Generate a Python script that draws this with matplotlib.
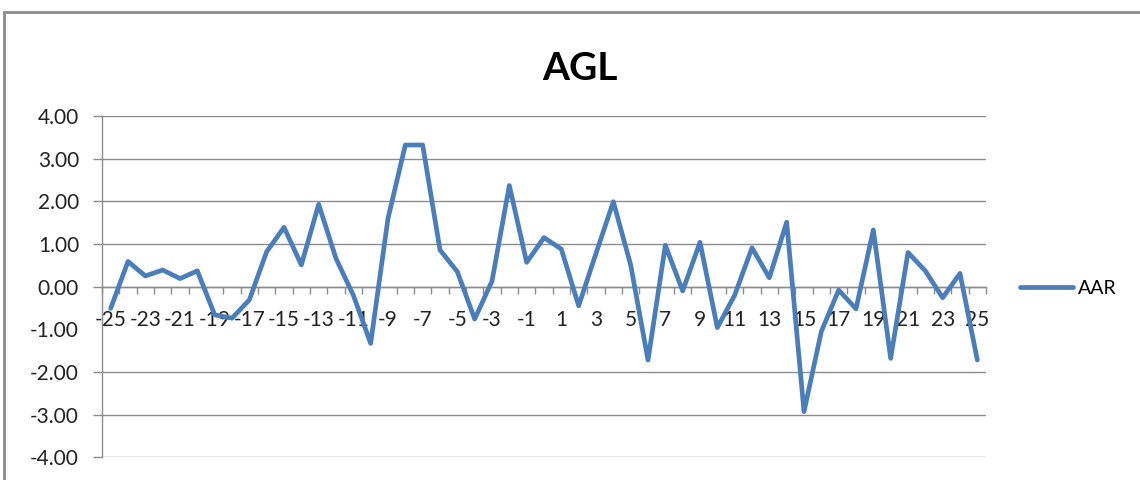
# -*- coding:utf-8 -*-
"""
AGL - average abnormal return around event day
"""
import numpy as np
import matplotlib
matplotlib.use('Agg')
import matplotlib.pyplot as plt
from matplotlib.patches import Rectangle
from matplotlib.ticker import FixedLocator

# event window days -25 .. 25
days = list(range(-25, 26))
aar = [
    -0.51, 0.59, 0.25, 0.39, 0.19, 0.37, -0.66, -0.74, -0.31, 0.82,
    1.39, 0.51, 1.93, 0.66, -0.20, -1.33, 1.60, 3.32, 3.32, 0.86,
    0.35, -0.76, 0.13, 2.37, 0.57, 1.15, 0.88, -0.45, 0.78, 1.99,
    0.51, -1.72, 0.97, -0.10, 1.04, -0.96, -0.20, 0.91, 0.21, 1.51,
    -2.93, -1.05, -0.08, -0.52, 1.33, -1.68, 0.80, 0.37, -0.26, 0.31,
    -1.72,
]
x_labels = list(range(-25, 26, 2))
y_ticks = [-4, -3, -2, -1, 0, 1, 2, 3, 4]
title = 'AGL'
series_name = 'AAR'

LINE_COLOR = '#4a7ebb'
GRID_COLOR = '#8c8c8c'
FONT = ['Lato', 'DejaVu Sans']

plt.rcParams['font.family'] = FONT

fig = plt.figure(figsize=(11.4, 4.8), dpi=100)
W, H = 1140.0, 480.0
ax = fig.add_axes([102 / W, 1 - 457.3 / H, (986 - 102) / W, (457.3 - 116) / H])

ax.plot(days, aar, color=LINE_COLOR, lw=3.4, solid_joinstyle='round',
        solid_capstyle='round', label=series_name, zorder=3, clip_on=False)

ax.set_xlim(days[0] - 0.5, days[-1] + 0.5)
ax.set_ylim(y_ticks[0], y_ticks[-1])

# y axis
ax.set_yticks(y_ticks)
ax.set_yticklabels(['%.2f' % v for v in y_ticks])
ax.tick_params(axis='y', length=6.5, width=1.0, color=GRID_COLOR, pad=10,
               labelsize=15, labelcolor='#222222')
ax.yaxis.grid(True, color=GRID_COLOR, lw=1.0)
ax.set_axisbelow(True)
# the -1 gridline sits under the category labels in the original
idx = y_ticks.index(-1)
ax.get_ygridlines()[idx].set_visible(False)
ax.yaxis.get_major_ticks()[idx].tick1line.set_visible(False)

# x axis crossing at zero, labels every other day, tick marks between days
ax.spines['bottom'].set_position(('data', 0))
ax.xaxis.set_major_locator(FixedLocator(x_labels))
ax.set_xticklabels([str(v) for v in x_labels])
ax.xaxis.set_minor_locator(FixedLocator(np.arange(days[0] - 0.5, days[-1] + 1, 1)))
ax.tick_params(axis='x', which='major', length=0, pad=17, labelsize=15,
               labelcolor='#222222')
ax.tick_params(axis='x', which='minor', length=5, width=1.0, color=GRID_COLOR,
               direction='out')

for side in ['top', 'right']:
    ax.spines[side].set_visible(False)
for side in ['left', 'bottom']:
    ax.spines[side].set_color(GRID_COLOR)
    ax.spines[side].set_linewidth(1.0)

# title and legend
fig.text(580 / W, 1 - 69 / H, title, ha='center', va='center',
         fontsize=28, fontweight='bold', color='black')
leg = ax.legend(loc='center left', bbox_to_anchor=(1020 / W, 1 - 288 / H),
                bbox_transform=fig.transFigure, frameon=False, fontsize=14,
                handlelength=2.7, handletextpad=0.3, borderpad=0,
                borderaxespad=0)

# chart area border (cut off at right and bottom in the original)
fig.add_artist(Rectangle((4 / W, -0.1), 1.2, 1.1 - 12 / H,
                         transform=fig.transFigure, fill=False,
                         edgecolor='#8c8c8c', lw=2.0, clip_on=False))

fig.savefig('out.png', dpi=100)
